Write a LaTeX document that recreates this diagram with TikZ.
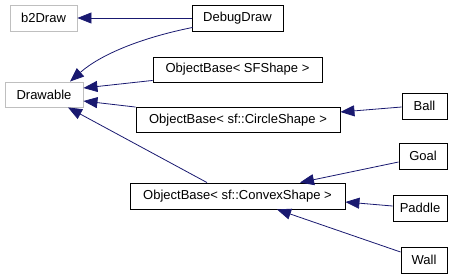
\documentclass[tikz,border=0pt]{standalone}
\usepackage{fontspec}
\setmainfont{Liberation Sans}
\usetikzlibrary{arrows.meta}
\begin{document}
\begin{tikzpicture}[x=1pt,y=-1pt,
  cls/.style={draw=black, line width=0.9pt, fill=white, rectangle, inner sep=0pt,
              font=\fontsize{13}{15}\selectfont},
  extcls/.style={cls, draw=black!25},
  inherit/.style={draw={rgb,255:red,25;green,25;blue,112}, line width=0.8pt,
                  -{Triangle[length=14pt,width=11pt,fill={rgb,255:red,25;green,25;blue,112}]}}]
\useasboundingbox (0,0) rectangle (461,277);
% classes
\node[extcls, minimum width=67pt, minimum height=26pt] (b2) at (43.5,18) {b2Draw};
\node[cls, minimum width=91pt, minimum height=26pt] (dbg) at (237.5,18) {DebugDraw};
\node[extcls, minimum width=78pt, minimum height=25pt] (drw) at (44,94.5) {Drawable};
\node[cls, minimum width=169pt, minimum height=25pt] (sfs) at (237.5,69.5) {ObjectBase< SFShape >};
\node[cls, minimum width=204pt, minimum height=25pt] (cir) at (238,120) {ObjectBase< sf::CircleShape >};
\node[cls, minimum width=215pt, minimum height=26pt] (cvx) at (237.5,196) {ObjectBase< sf::ConvexShape >};
\node[cls, minimum width=45pt, minimum height=26pt] (ball) at (424.5,106) {Ball};
\node[cls, minimum width=48pt, minimum height=26pt] (goal) at (423,156) {Goal};
\node[cls, minimum width=54pt, minimum height=26pt] (pad) at (420,208) {Paddle};
\node[cls, minimum width=46pt, minimum height=26pt] (wall) at (424,260) {Wall};
% inheritance links (yshift is in page units: positive moves up)
\draw[inherit] (dbg.west) -- (b2.east);
\draw[inherit] ([xshift=1pt,yshift=4pt]dbg.south west) .. controls (140,38) and (100,55) .. ([xshift=26pt]drw.north);
\draw[inherit] ([yshift=2pt]sfs.south west) -- ([yshift=6.5pt]drw.east);
\draw[inherit] (cir.north west) -- ([yshift=-6.5pt]drw.east);
\draw[inherit] ([xshift=-30.5pt]cvx.north) -- ([xshift=24pt]drw.south);
\draw[inherit] ([yshift=-1pt]ball.west) -- ([yshift=8pt]cir.east);
\draw[inherit] ([yshift=-6pt]goal.west) -- ([xshift=62.5pt]cvx.north);
\draw[inherit] ([yshift=2pt]pad.west) -- ([yshift=-6pt]cvx.east);
\draw[inherit] ([yshift=8pt]wall.west) -- ([xshift=39.5pt]cvx.south);
\end{tikzpicture}
\end{document}
